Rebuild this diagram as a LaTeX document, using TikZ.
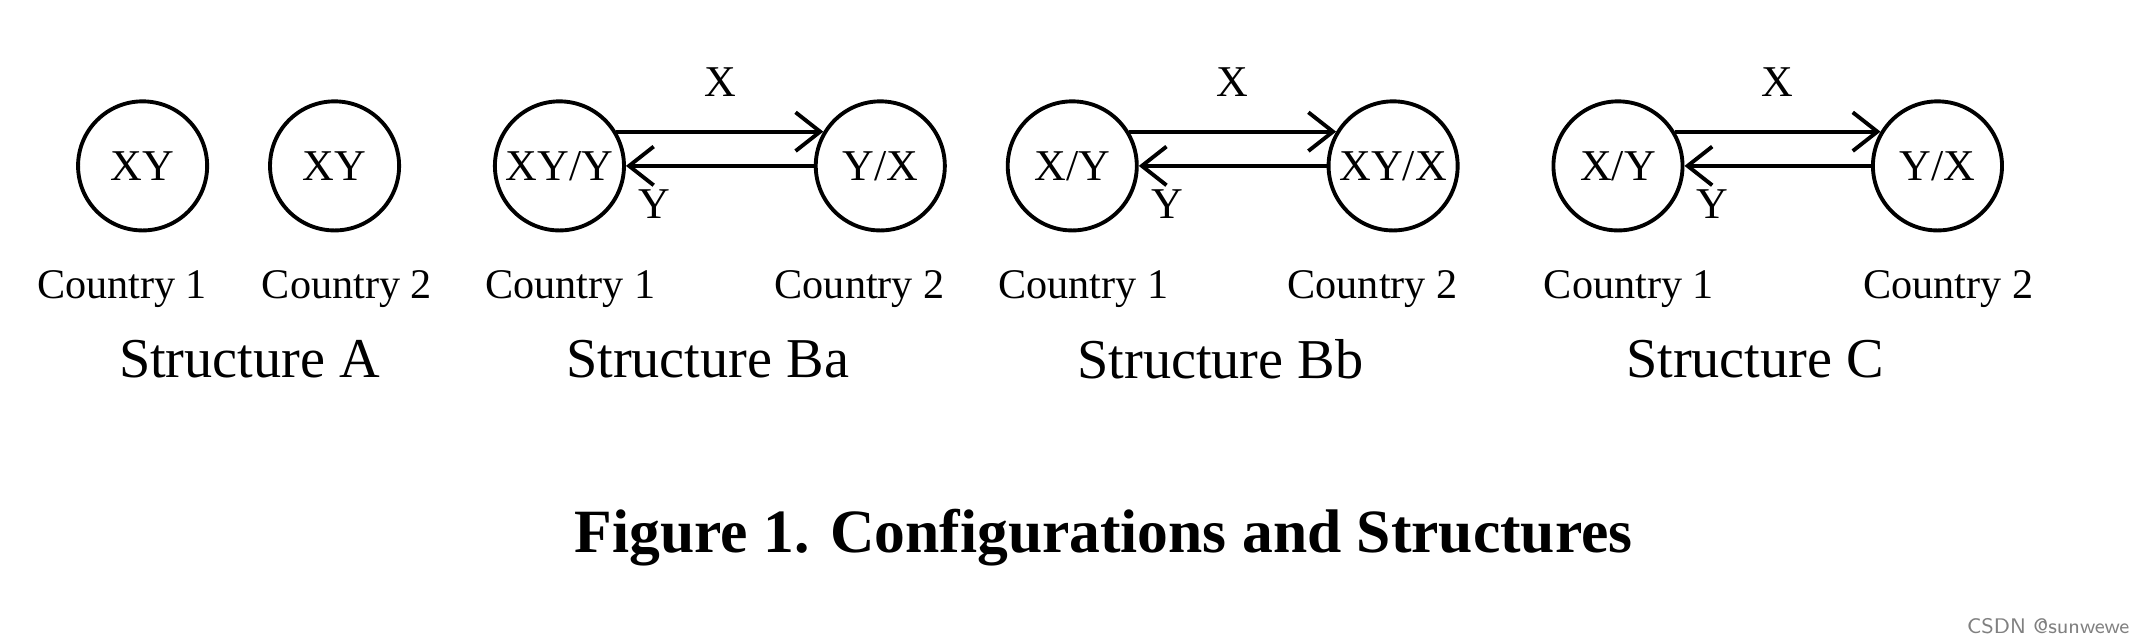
\documentclass[tikz,border=0pt]{standalone}
\usepackage{fontspec}
\setmainfont{Liberation Serif}
\usetikzlibrary{arrows.meta}
\begin{document}
\begin{tikzpicture}[x=0.01371cm,y=-0.01371cm,
  ctry/.style={circle,draw,line width=1.1pt,minimum size=1.29cm,inner sep=0pt,font=\fontsize{12.5}{14}\selectfont},
  lab/.style={font=\fontsize{12}{14}\selectfont},
  stitle/.style={font=\fontsize{16}{18}\selectfont},
  flow/.style={line width=1.1pt,-{Straight Barb[length=7pt,width=11pt,line width=1.1pt]}},
  al/.style={font=\fontsize{12.5}{14}\selectfont}]
\useasboundingbox (0,0) rectangle (1568,468);
% Structure A
\node[ctry] (a1) at (104,121) {XY};
\node[ctry] (a2) at (244,121) {XY};
\node[lab] (a1l) at (89,211) {Country 1};
\node[lab] (a2l) at (253,211) {Country 2};
\node[stitle] (sa) at (182,262) {Structure A};
% pairs
\foreach \n/\xl/\xr/\tl/\tr/\cl/\cr/\stt/\sx in {
  ba/408/642/XY{/}Y/Y{/}X/416/627/Structure Ba/516,
  bb/782/1016/X{/}Y/XY{/}X/790/1001/Structure Bb/890,
  c/1180/1413/X{/}Y/Y{/}X/1188/1421/Structure C/1280}{
  \node[ctry] (\n1) at (\xl,121) {\tl};
  \node[ctry] (\n2) at (\xr,121) {\tr};
  \node[lab] (\n1l) at (\cl,211) {Country 1};
  \node[lab] (\n2l) at (\cr,211) {Country 2};
  \node[stitle] (\n s) at (\sx,262) {\stt};
  \draw[flow] (\n1.31) -- (\n2.149) node[al,midway,above=6pt] {X};
  \draw[flow] (\n2.west) -- (\n1.east) node[al,pos=0.85,below=3pt] {Y};
}
\node[font=\bfseries\fontsize{17.5}{20}\selectfont] (t) at (805,392) {Figure 1. Configurations and Structures};
\node[font=\sffamily\fontsize{6}{7}\selectfont,text=gray,anchor=east] (w) at (1562,457) {CSDN @sunwewe};
\end{tikzpicture}
\end{document}
